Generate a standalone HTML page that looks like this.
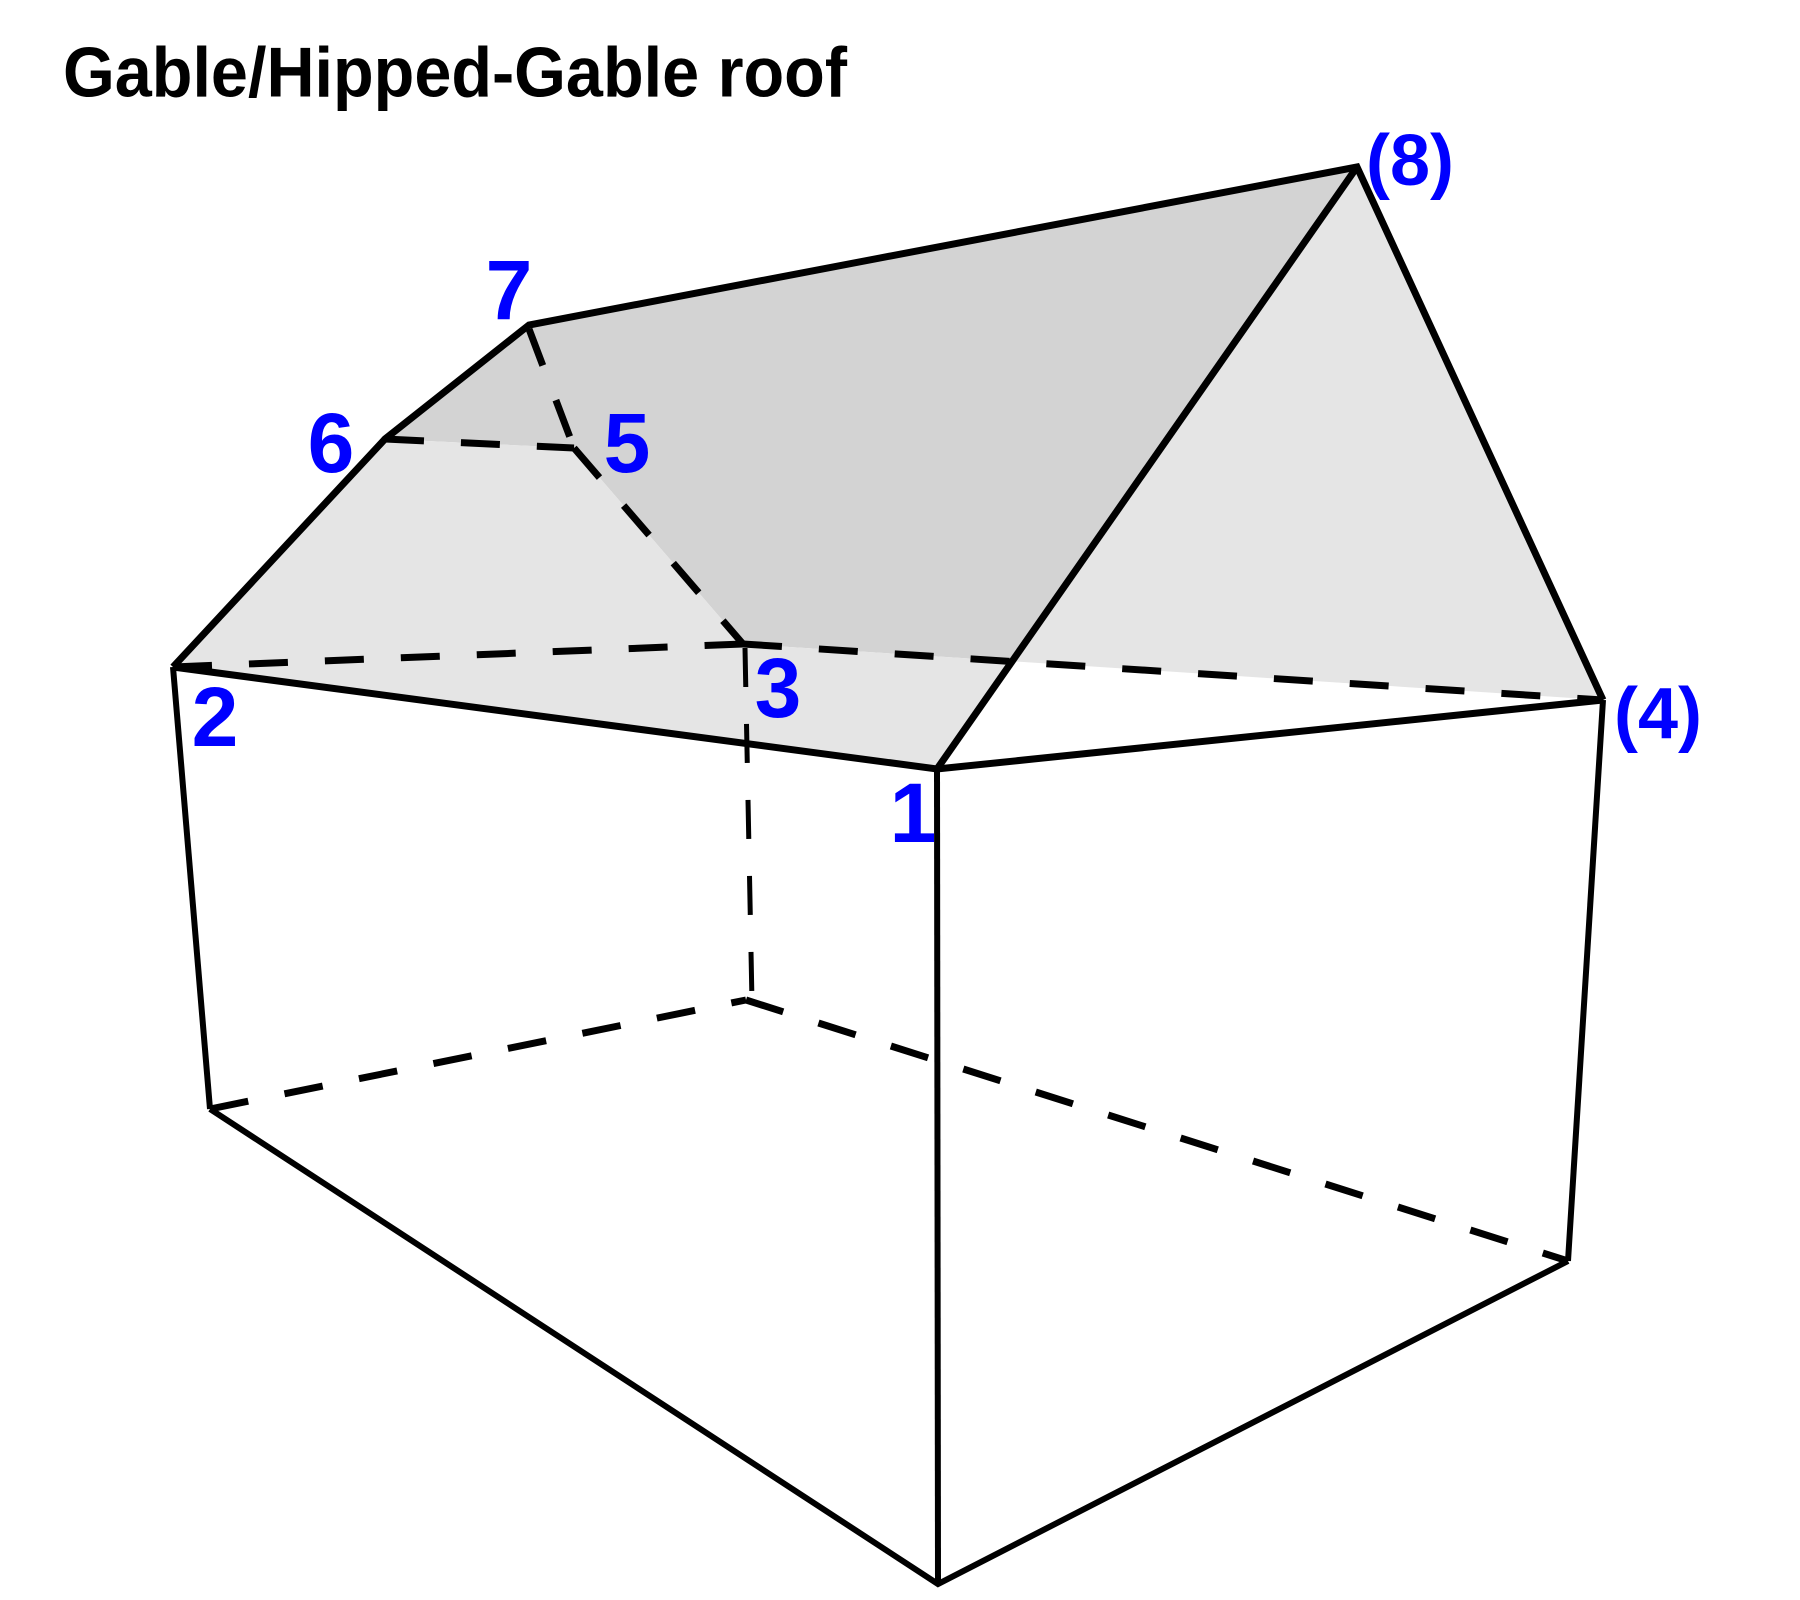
<!DOCTYPE html>
<html><head><meta charset="utf-8"><style>html,body{margin:0;padding:0;background:#fff}svg{display:block}</style></head>
<body>
<svg width="1800" height="1600" viewBox="0 0 1800 1600" xmlns="http://www.w3.org/2000/svg">
<g stroke="none">
<polygon points="385,439 529,325 1357,167 1009,661 743,644 574,448" fill="#d3d3d3"/>
<polygon points="173,667 385,439 574,448 743,644 1009,661 937,769" fill="#e5e5e5"/>
<polygon points="1357,167 1603,700 1009,661" fill="#e5e5e5"/>
</g>
<g stroke="#000" fill="none" stroke-linejoin="miter" stroke-linecap="butt">
<g stroke-width="7">
<polyline points="173,667 385,439 529,325 1357,167 1603,700"/>
<line x1="1357" y1="167" x2="937" y2="769"/>
<polyline points="173,667 937,769 1603,700"/>
</g>
<g stroke-width="6">
<line x1="937" y1="769" x2="938" y2="1584"/>
<line x1="173" y1="667" x2="210" y2="1109"/>
<line x1="1603" y1="700" x2="1568" y2="1261"/>
<polyline points="210,1109 938,1584 1568,1261"/>
</g>
<g stroke-width="7" stroke-dasharray="39 37">
<line x1="385" y1="439" x2="574" y2="448"/>
<line x1="529" y1="329" x2="574" y2="448"/>
<line x1="574" y1="448" x2="743" y2="644"/>
<line x1="173" y1="667" x2="743" y2="644"/>
<line x1="743" y1="644" x2="1603" y2="700"/>
<line x1="210" y1="1109" x2="746" y2="1000"/>
<line x1="746" y1="1000" x2="1568" y2="1261"/>
</g>
<line x1="745" y1="648" x2="752" y2="1002" stroke-width="5" stroke-dasharray="39 37"/>
</g>
<text x="63" y="97" font-family="Liberation Sans, Arial, sans-serif" font-weight="bold" font-size="64" textLength="784" lengthAdjust="spacingAndGlyphs" fill="#000" transform="translate(0,-10) scale(1,1.1)">Gable/Hipped-Gable roof</text>
<g font-family="Liberation Sans, Arial, sans-serif" font-weight="bold" font-size="84" fill="#0000ff" text-anchor="middle">
<text x="509" y="319">7</text>
<text x="331" y="472">6</text>
<text x="627" y="472">5</text>
<text x="778" y="717">3</text>
<text x="215" y="746">2</text>
<text x="913" y="842">1</text>
</g>
<g font-family="Liberation Sans, Arial, sans-serif" font-weight="bold" font-size="72" fill="#0000ff" text-anchor="middle">
<text x="1410" y="185">(8)</text>
<text x="1658" y="738">(4)</text>
</g>
</svg>
</body></html>
